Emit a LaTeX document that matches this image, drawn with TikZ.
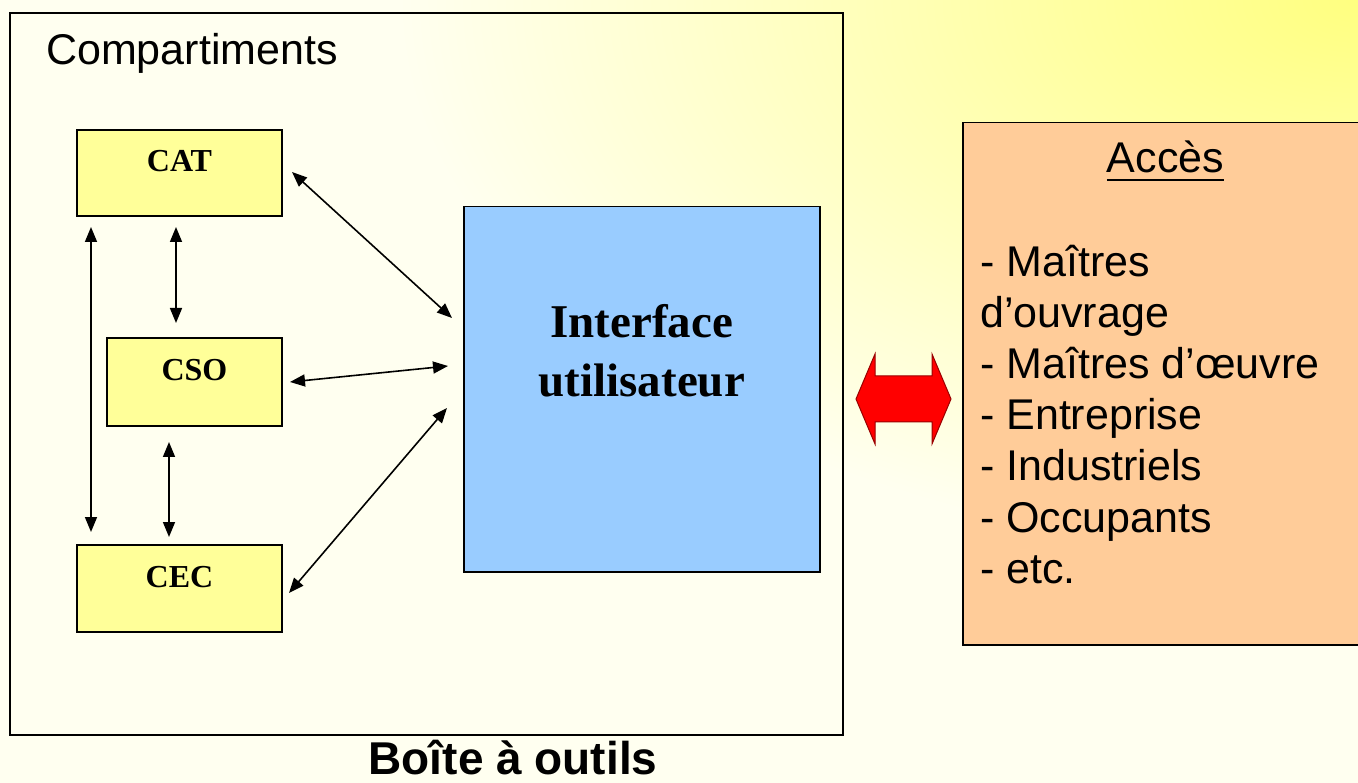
\documentclass[tikz,border=0pt]{standalone}
\usepackage{fontspec}
\setmainfont{Liberation Serif}
\newfontfamily\arialf{Liberation Sans}
\usetikzlibrary{arrows.meta,calc}
\definecolor{boxyellow}{HTML}{FFFF99}
\definecolor{uiblue}{HTML}{99CCFF}
\definecolor{accesorange}{HTML}{FFCC99}
\definecolor{bgcream}{HTML}{FFFFF0}
\definecolor{bgyellow}{HTML}{FFFF80}
\definecolor{arrowred}{HTML}{FF0000}
\definecolor{arrowdark}{HTML}{990000}
\begin{document}
\begin{tikzpicture}[x=1pt,y=-1pt,
  cbox/.style={draw=black,line width=1.5pt,fill=boxyellow,rectangle,inner sep=0pt,outer sep=0pt,anchor=north west},
  ctext/.style={font=\fontsize{32}{38}\selectfont\bfseries,inner sep=0pt,anchor=base},
  uitext/.style={font=\fontsize{47}{59}\selectfont\bfseries,inner sep=0pt,anchor=base},
  sanstext/.style={font=\arialf\fontsize{43}{51}\selectfont,inner sep=0pt},
  biarrow/.style={{Triangle[length=15pt,width=12pt]}-{Triangle[length=15pt,width=12pt]},line width=1.6pt},
  bigarrow/.style={fill=arrowred,draw=arrowdark,line width=1pt,line join=miter}]
\useasboundingbox (0,0) rectangle (1358,783);
\clip (0,0) rectangle (1358,783);
\fill[bgcream] (0,0) rectangle (1358,783);
\shade[inner color=bgyellow,outer color=bgcream] (1358,0) ellipse [x radius=960, y radius=560];
% toolbox frame
\node[draw=black,line width=1.8pt,rectangle,inner sep=0pt,anchor=north west,
      minimum width=833pt,minimum height=722pt] (boite) at (9,12) {};
\node[sanstext,anchor=base west] (compart) at (46,65) {Compartiments};
\node[font=\arialf\fontsize{46}{55}\selectfont\bfseries,inner sep=0pt,anchor=base] (boitelabel) at (513,774) {Boîte à outils};
% compartments
\node[cbox,minimum width=205pt,minimum height=86pt] (cat) at (77,130) {};
\node[cbox,minimum width=175pt,minimum height=88pt] (cso) at (107,338) {};
\node[cbox,minimum width=205pt,minimum height=87pt] (cec) at (77,545) {};
\node[ctext] (cattext) at ($(cat.north)+(0,42)$) {CAT};
\node[ctext] (csotext) at ($(cso.north)+(0,43)$) {CSO};
\node[ctext] (cectext) at ($(cec.north)+(0,42)$) {CEC};
% interface
\node[draw=black,line width=1.5pt,fill=uiblue,rectangle,inner sep=0pt,anchor=north west,
      minimum width=356pt,minimum height=365pt] (ui) at (463,206) {};
\node[uitext] (uitexta) at ($(ui.north)+(0,132)$) {Interface};
\node[uitext] (uitextb) at ($(ui.north)+(0,191)$) {utilisateur};
% connectors
\draw[biarrow] ($(cat.south west)+(14,11)$) -- ($(cec.north west)+(14,-13)$);
\draw[biarrow] ($(cat.south west)+(99,11)$) -- ($(cso.north west)+(69,-15)$);
\draw[biarrow] ($(cso.south west)+(62,16)$) -- ($(cec.north west)+(92,-8)$);
\draw[biarrow] ($(cat.east)+(10,-1)$) -- ($(ui.north west)+(-11,112)$);
\draw[biarrow] ($(cso.east)+(8,0)$) -- ($(ui.north west)+(-15,160)$);
\draw[biarrow] ($(cec.east)+(7,4.5)$) -- ($(ui.north west)+(-16,202)$);
% red double arrow
\filldraw[bigarrow] (856,399) -- (875,354) -- (875,376) -- (932,376) -- (932,354)
  -- (951,399) -- (932,444) -- (932,422) -- (875,422) -- (875,444) -- cycle;
% acces box
\node[draw=black,line width=1.5pt,fill=accesorange,rectangle,inner sep=0pt,anchor=north west,
      minimum width=420pt,minimum height=522pt] (acces) at (962,122) {};
\node[sanstext,anchor=base] (accestitle) at (1165.5,173) {Accès};
\draw[line width=2.6pt] (accestitle.west |- 0,180) -- (accestitle.east |- 0,180);
\node[sanstext,anchor=base west] (l1) at (980,277) {- Maîtres};
\node[sanstext,anchor=base west] (l2) at (980,328) {d’ouvrage};
\node[sanstext,anchor=base west] (l3) at (980,379) {- Maîtres d’œuvre};
\node[sanstext,anchor=base west] (l4) at (980,430) {- Entreprise};
\node[sanstext,anchor=base west] (l5) at (980,481) {- Industriels};
\node[sanstext,anchor=base west] (l6) at (980,532) {- Occupants};
\node[sanstext,anchor=base west] (l7) at (980,583) {- etc.};
\end{tikzpicture}
\end{document}
